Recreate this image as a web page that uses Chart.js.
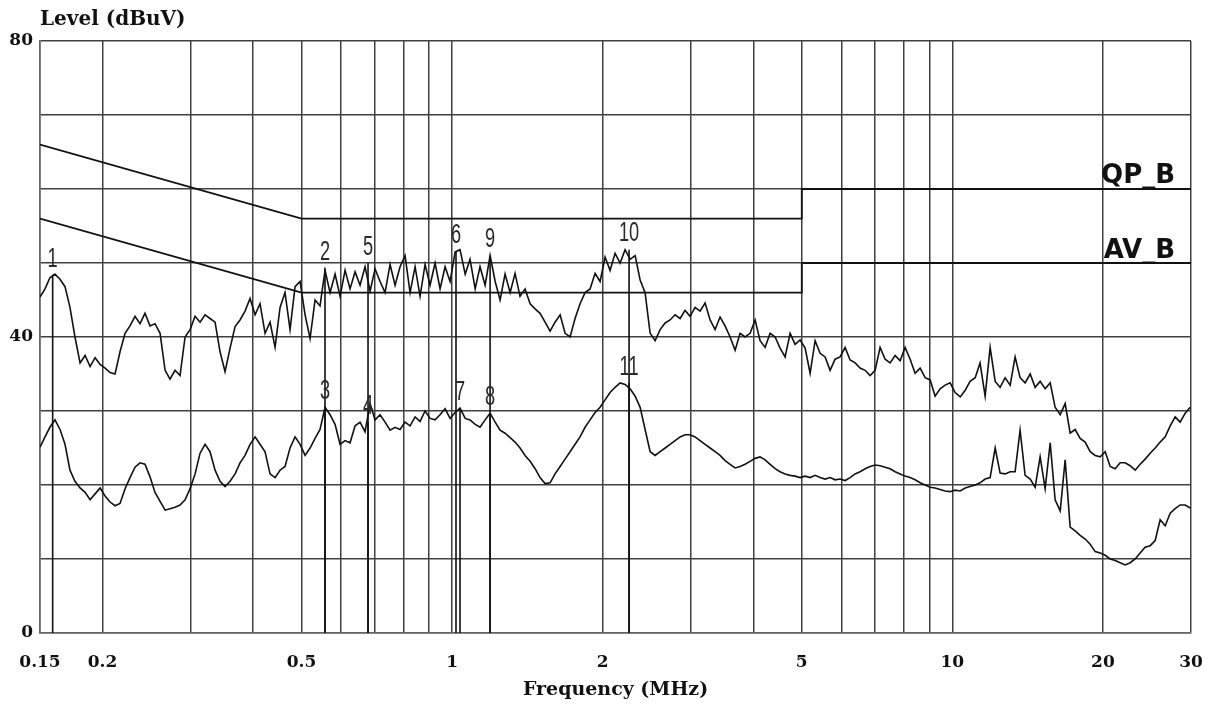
<!DOCTYPE html>
<html>
<head>
<meta charset="utf-8">
<script src="https://cdn.jsdelivr.net/npm/chart.js@4.4.1/dist/chart.umd.min.js"></script>
<style>
  html, body { margin: 0; padding: 0; background: #fff; }
</style>
</head>
<body>
<canvas id="emi" width="1229" height="711"></canvas>
<script>
// scan frequencies (MHz)
const freqMHz = [
  0.150, 0.1535, 0.157, 0.1607, 0.1645, 0.1683, 0.1722, 0.1762, 0.1804, 0.1846,
  0.1889, 0.1933, 0.1978, 0.2024, 0.2071, 0.2119, 0.2168, 0.2219, 0.2270, 0.2323,
  0.2377, 0.2432, 0.2489, 0.2547, 0.2607, 0.2668, 0.2729, 0.2793, 0.2858, 0.2925,
  0.2993, 0.3063, 0.3134, 0.3207, 0.3281, 0.3358, 0.3436, 0.3516, 0.3598, 0.3682,
  0.3767, 0.3855, 0.3945, 0.4037, 0.4130, 0.4227, 0.4325, 0.4426, 0.4529, 0.4634,
  0.4742, 0.4853, 0.4966, 0.5082, 0.5200, 0.5321, 0.5444, 0.5571, 0.5701, 0.5834,
  0.5970, 0.6109, 0.6251, 0.6397, 0.6545, 0.6698, 0.6854, 0.7014, 0.7177, 0.7344,
  0.7515, 0.7690, 0.7869, 0.8052, 0.8240, 0.8432, 0.8628, 0.8829, 0.9035, 0.9245,
  0.9460, 0.9681, 0.9906, 1.014, 1.037, 1.062, 1.086, 1.112, 1.137, 1.164,
  1.191, 1.219, 1.247, 1.276, 1.306, 1.336, 1.367, 1.399, 1.432, 1.465,
  1.499, 1.534, 1.570, 1.606, 1.644, 1.682, 1.721, 1.761, 1.802, 1.844,
  1.887, 1.931, 1.976, 2.022, 2.069, 2.117, 2.167, 2.217, 2.269, 2.322,
  2.376, 2.431, 2.488, 2.546, 2.605, 2.666, 2.727, 2.791, 2.856, 2.922,
  2.990, 3.060, 3.131, 3.204, 3.279, 3.355, 3.433, 3.513, 3.595, 3.679,
  3.764, 3.852, 3.942, 4.034, 4.127, 4.224, 4.322, 4.423, 4.525, 4.631,
  4.739, 4.849, 4.962, 5.078, 5.196, 5.317, 5.440, 5.567, 5.697, 5.829,
  5.965, 6.104, 6.246, 6.392, 6.540, 6.693, 6.849, 7.008, 7.171, 7.338,
  7.509, 7.684, 7.863, 8.046, 8.234, 8.425, 8.622, 8.823, 9.028, 9.238,
  9.453, 9.673, 9.899, 10.13, 10.37, 10.61, 10.85, 11.11, 11.36, 11.63,
  11.90, 12.18, 12.46, 12.75, 13.05, 13.35, 13.66, 13.98, 14.31, 14.64,
  14.98, 15.33, 15.69, 16.05, 16.43, 16.81, 17.20, 17.60, 18.01, 18.43,
  18.86, 19.30, 19.75, 20.21, 20.68, 21.16, 21.65, 22.16, 22.67, 23.20,
  23.74, 24.29, 24.86, 25.44, 26.03, 26.64, 27.26, 27.89, 28.54, 29.21,
  29.89
];

// peak (QP) scan, dBuV
const qpLevel = [
  45.4, 46.5, 48.0, 48.5, 47.8, 46.8, 44.0, 40.0, 36.5, 37.5,
  36.0, 37.2, 36.3, 35.8, 35.2, 35.0, 38.0, 40.5, 41.5, 42.8,
  41.8, 43.2, 41.5, 41.8, 40.5, 35.5, 34.3, 35.5, 34.8, 40.0,
  41.0, 42.8, 42.0, 43.0, 42.5, 42.0, 38.0, 35.3, 38.5, 41.4,
  42.3, 43.5, 45.2, 43.0, 44.5, 40.5, 42.0, 38.6, 44.0, 46.0,
  41.0, 46.8, 47.5, 43.0, 39.8, 45.0, 44.2, 49.0, 46.0, 48.5,
  45.5, 49.0, 46.5, 48.8, 47.0, 49.5, 46.2, 49.2, 47.5, 46.0,
  49.8, 47.0, 49.5, 51.0, 46.0, 49.5, 45.5, 49.8, 47.0, 50.0,
  46.5, 49.5, 47.5, 51.5, 51.8, 48.5, 50.5, 46.5, 49.5, 47.0,
  51.0, 47.5, 45.0, 48.5, 46.0, 48.6, 45.5, 46.5, 44.5, 43.8,
  43.2, 42.0, 40.8, 42.0, 43.0, 40.5, 40.0, 42.5, 44.5, 46.0,
  46.5, 48.6, 47.5, 50.8, 49.0, 51.3, 50.0, 51.8, 50.5, 51.0,
  47.7, 46.0, 40.5, 39.5, 41.0, 41.9, 42.3, 43.0, 42.5, 43.6,
  42.8, 44.0, 43.5, 44.6, 42.3, 41.0, 42.7, 41.5, 40.0, 38.2,
  40.5, 40.0, 40.5, 42.3, 39.5, 38.6, 40.5, 40.0, 38.5, 37.3,
  40.5, 39.0, 39.6, 38.5, 35.1, 39.5, 37.8, 37.3, 35.5, 37.0,
  37.3, 38.6, 36.9, 36.5, 35.8, 35.5, 34.8, 35.5, 38.6, 37.0,
  36.5, 37.5, 36.8, 38.6, 37.0, 35.1, 35.8, 34.5, 34.2, 32.0,
  33.0, 33.5, 33.8, 32.5, 31.9, 32.8, 34.0, 34.5, 36.5, 32.0,
  38.6, 34.0, 33.2, 34.5, 33.5, 37.3, 34.5, 33.8, 35.0, 33.2,
  34.0, 33.0, 33.8, 30.5, 29.5, 31.0, 27.0, 27.5, 26.3, 25.8,
  24.5, 24.0, 23.8, 24.5, 22.5, 22.2, 23.0, 23.0, 22.6, 22.0,
  22.8, 23.5, 24.3, 25.0, 25.8, 26.5, 28.0, 29.2, 28.5, 29.7,
  30.5
];

// average (AV) scan, dBuV
const avLevel = [
  25.1, 26.5, 27.8, 28.8, 27.5, 25.5, 22.0, 20.5, 19.6, 19.0,
  18.0, 18.8, 19.6, 18.5, 17.7, 17.2, 17.5, 19.5, 21.0, 22.4,
  23.0, 22.8, 21.1, 19.0, 17.8, 16.6, 16.8, 17.0, 17.3, 18.0,
  19.5, 21.5, 24.3, 25.5, 24.5, 22.0, 20.5, 19.8, 20.5, 21.5,
  23.0, 24.0, 25.5, 26.5, 25.5, 24.5, 21.5, 21.0, 22.0, 22.5,
  25.0, 26.5, 25.5, 24.0, 25.0, 26.3, 27.5, 30.5, 29.5, 28.2,
  25.5, 26.0, 25.7, 28.0, 28.5, 27.2, 31.0, 28.8, 29.5, 28.5,
  27.4, 27.8, 27.5, 28.5, 28.0, 29.2, 28.6, 30.0, 29.0, 28.8,
  29.5, 30.3, 29.0, 29.8, 30.4, 29.0, 28.8, 28.2, 27.8, 28.8,
  29.7, 28.5, 27.4, 27.0, 26.4, 25.8, 25.0, 24.0, 23.2, 22.2,
  21.0, 20.2, 20.3, 21.5, 22.5, 23.5, 24.5, 25.5, 26.5, 27.8,
  28.8, 29.8, 30.5, 31.5, 32.5, 33.2, 33.8, 33.6, 33.0, 32.0,
  30.5, 27.5, 24.5, 24.0, 24.5, 25.0, 25.5, 26.0, 26.5, 26.8,
  26.8, 26.5, 26.0, 25.5, 25.0, 24.5, 24.0, 23.3, 22.8, 22.3,
  22.5, 22.8, 23.2, 23.6, 23.8, 23.4, 22.8, 22.2, 21.8, 21.5,
  21.3, 21.2, 21.0, 21.2, 21.0, 21.3, 21.0, 20.8, 21.0, 20.7,
  20.8, 20.6, 21.0, 21.5, 21.8, 22.2, 22.5, 22.7, 22.6, 22.4,
  22.2, 21.8, 21.5, 21.2, 21.0, 20.7, 20.3, 20.0, 19.7, 19.6,
  19.4, 19.2, 19.1, 19.3, 19.2, 19.6, 19.8, 20.0, 20.3, 20.8,
  21.0, 25.0, 21.6, 21.5, 21.8, 21.8, 27.4, 21.3, 20.8, 19.7,
  23.8, 19.5, 25.7, 18.0, 16.5, 23.4, 14.3, 13.8, 13.2, 12.7,
  12.0, 11.0, 10.8, 10.5, 10.0, 9.8, 9.5, 9.2, 9.5, 10.0,
  10.8, 11.6, 11.8, 12.5, 15.3, 14.5, 16.2, 16.8, 17.3, 17.3,
  16.9
];

// limit lines (class B)
const limitQPFreq = [0.15, 0.5, 5, 5, 30];
const limitQPLevel = [66, 56, 56, 60, 60];
const limitAVFreq = [0.15, 0.5, 5, 5, 30];
const limitAVLevel = [56, 46, 46, 50, 50];

// markers
const markerNames = ['1', '2', '3', '4', '5', '6', '7', '8', '9', '10', '11'];
const markerFreq = [0.159, 0.557, 0.557, 0.679, 0.679, 1.018, 1.037, 1.191, 1.191, 2.258, 2.258];
const markerLevel = [48.4, 49.3, 30.5, 28.5, 50.0, 51.6, 30.4, 29.7, 51.0, 51.8, 33.8];

// axis ticks
const xGridFreq = [0.15, 0.2, 0.3, 0.4, 0.5, 0.6, 0.7, 0.8, 0.9, 1, 2, 3, 4, 5, 6, 7, 8, 9, 10, 20, 30];
const xLabelFreq = [0.15, 0.2, 0.5, 1, 2, 5, 10, 20, 30];
const xLabelText = ['0.15', '0.2', '0.5', '1', '2', '5', '10', '20', '30'];
const yLabelValues = [0, 40, 80];

const ink = '#111';
const gridColor = '#404040';
const serifBold = (size) => ({ family: 'DejaVu Serif', weight: 'bold', size: size });

const toPoints = (xs, ys) => xs.map((f, i) => ({ x: f, y: ys[i] }));

const datasets = [
    { label: 'QP', data: toPoints(freqMHz, qpLevel), borderColor: ink, borderWidth: 1.6 },
    { label: 'AV', data: toPoints(freqMHz, avLevel), borderColor: ink, borderWidth: 1.6 },
    { label: 'QP_B', data: toPoints(limitQPFreq, limitQPLevel), borderColor: ink, borderWidth: 1.8 },
    { label: 'AV_B', data: toPoints(limitAVFreq, limitAVLevel), borderColor: ink, borderWidth: 1.8 }
];
markerNames.forEach((name, i) => {
    datasets.push({
        label: 'marker ' + name,
        data: [{ x: markerFreq[i], y: 0 }, { x: markerFreq[i], y: markerLevel[i] }],
        borderColor: ink,
        borderWidth: 1.6
    });
});

// texts drawn on top: axis heading, limit names, marker numbers
const emiText = {
    id: 'emiText',
    afterDraw(chart) {
        const { ctx, chartArea } = chart;
        const x = chart.scales.x;
        const y = chart.scales.y;
        ctx.save();
        ctx.fillStyle = ink;

        ctx.font = 'bold 20px "DejaVu Serif"';
        ctx.textAlign = 'left';
        ctx.textBaseline = 'middle';
        ctx.fillText('Level (dBuV)', chartArea.left, 20);

        ctx.font = 'bold 26px "DejaVu Sans"';
        ctx.textAlign = 'right';
        ctx.textBaseline = 'alphabetic';
        ctx.fillText('QP_B', chartArea.right - 16, y.getPixelForValue(limitQPLevel[limitQPLevel.length - 1]) - 6);
        ctx.fillText('AV_B', chartArea.right - 16, y.getPixelForValue(limitAVLevel[limitAVLevel.length - 1]) - 5);

        ctx.font = '28px "Liberation Sans"';
        ctx.fillStyle = '#2a2a2a';
        ctx.textAlign = 'center';
        ctx.textBaseline = 'middle';
        markerNames.forEach((name, i) => {
            const px = x.getPixelForValue(markerFreq[i]);
            const py = y.getPixelForValue(markerLevel[i]) - 16;
            ctx.save();
            ctx.translate(px, py);
            ctx.scale(0.65, 1);
            ctx.fillText(name, 0, 0);
            ctx.restore();
        });
        ctx.restore();
    }
};

new Chart(document.getElementById('emi').getContext('2d'), {
    type: 'line',
    data: { datasets: datasets },
    options: {
        responsive: false,
        animation: false,
        layout: { padding: { top: 41, right: 38, bottom: 0, left: 0 } },
        elements: { point: { radius: 0 }, line: { tension: 0 } },
        plugins: {
            legend: { display: false },
            tooltip: { enabled: false }
        },
        scales: {
            x: {
                type: 'logarithmic',
                min: 0.15,
                max: 30,
                afterBuildTicks: (scale) => {
                    scale.ticks = xGridFreq.map(v => ({ value: v }));
                },
                afterFit: (scale) => { scale.height = 78; },
                ticks: {
                    autoSkip: false,
                    maxRotation: 0,
                    padding: 19,
                    color: ink,
                    font: serifBold(17),
                    callback: (v) => {
                        const i = xLabelFreq.indexOf(v);
                        return i >= 0 ? xLabelText[i] : '';
                    }
                },
                grid: { color: gridColor, lineWidth: 1.5, drawTicks: false },
                border: { color: '#666', width: 1.5 },
                title: {
                    display: true,
                    text: 'Frequency (MHz)',
                    color: ink,
                    font: serifBold(19),
                    padding: { top: 0, bottom: 10 }
                }
            },
            y: {
                min: 0,
                max: 80,
                afterFit: (scale) => { scale.width = 40; },
                ticks: {
                    stepSize: 10,
                    padding: 7,
                    color: ink,
                    font: serifBold(17),
                    callback: (v) => yLabelValues.includes(v) ? String(v) : ''
                },
                grid: { color: gridColor, lineWidth: 1.5, drawTicks: false },
                border: { color: '#666', width: 1.5 }
            }
        }
    },
    plugins: [emiText]
});
</script>
</body>
</html>
